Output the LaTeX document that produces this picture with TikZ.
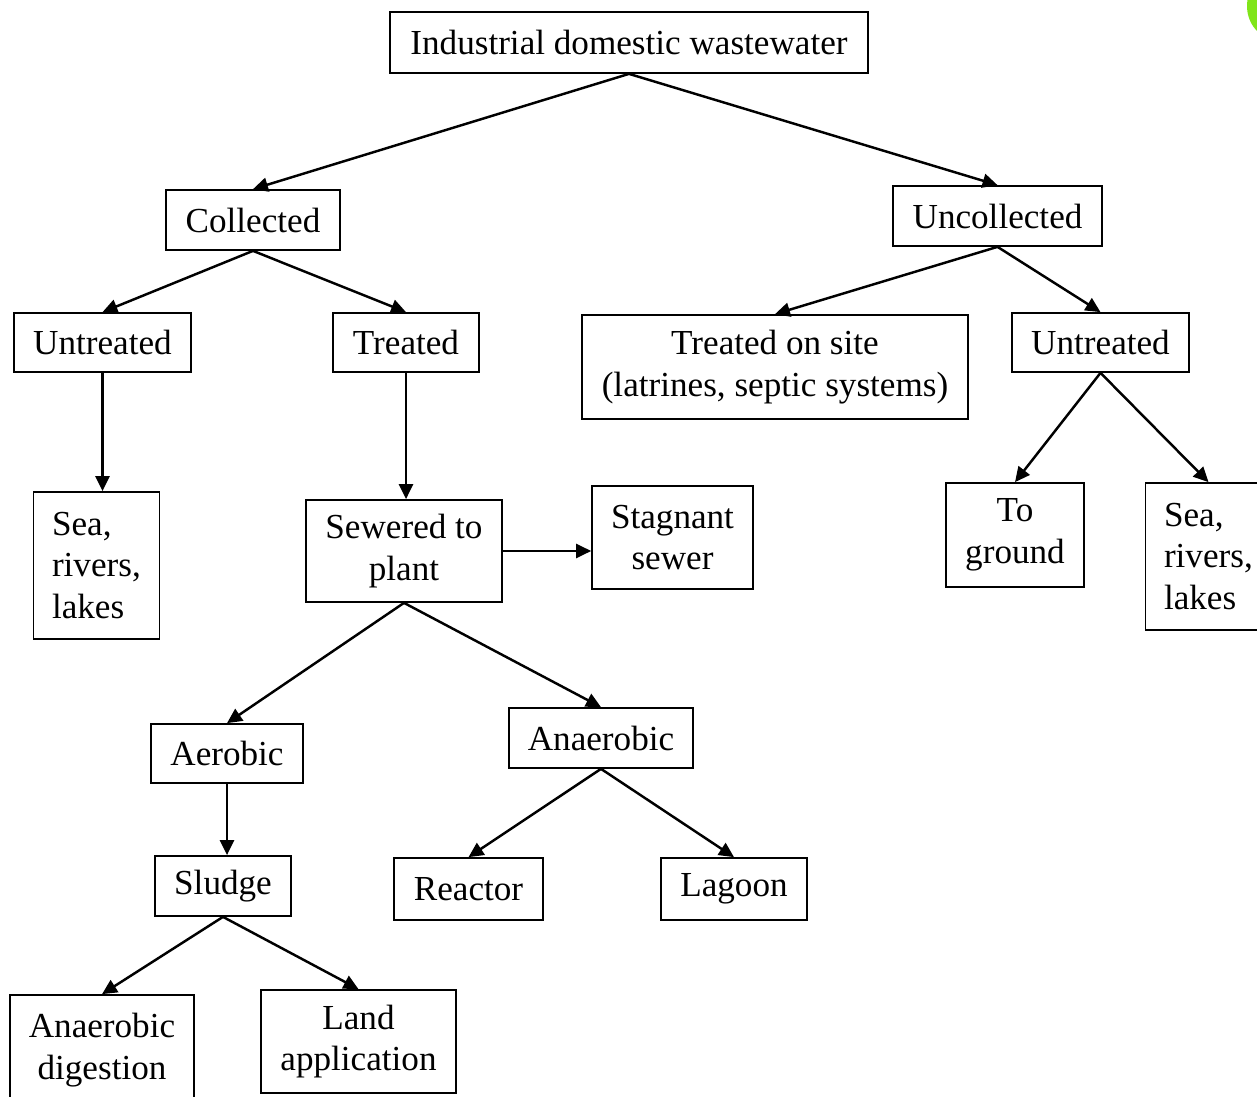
\documentclass[tikz,border=0pt]{standalone}
\usepackage{fontspec}
\setmainfont{Liberation Serif}
\usetikzlibrary{arrows.meta, positioning}
\definecolor{leaf}{rgb}{0.5,0.9,0.1}

\begin{document}
\begin{tikzpicture}[x=0.02cm, y=-0.02cm]
	\tikzstyle{box} = [ draw, rectangle, line width=1pt, inner sep=0pt, align=center, font={\fontsize{20}{23.8}\selectfont} ];
	\tikzstyle{water} = [ box, align=left, text width=1.78cm, inner xsep=0.37cm, minimum height=2.94cm ];
	\tikzstyle{point} = [ -{Triangle[length=8.5pt, width=8pt]}, line width=1.4pt ];

	\path[use as bounding box, fill=white] (0,0) rectangle (1257,1097);
	\clip (0,0) rectangle (1257,1097);

	\fill[leaf] (1276,6) ellipse [x radius=29, y radius=33];

	% first levels
	\node[box, minimum width=9.56cm, minimum height=1.22cm] (top) at (629,42.5) {Industrial domestic wastewater};
	\node[box, minimum width=3.48cm, minimum height=1.2cm] (coll) at (253,220) {Collected};
	\node[box, minimum width=4.18cm, minimum height=1.2cm] (uncoll) at (997.5,216) {Uncollected};
	\node[box, minimum width=3.54cm, minimum height=1.18cm] (untrL) at (102.5,342.5) {Untreated};
	\node[box, minimum width=2.92cm, minimum height=1.18cm] (treat) at (406,342.5) {Treated};
	\node[box, minimum width=7.72cm, minimum height=2.08cm] (onsite) at (775,367) {Treated on site\\(latrines, septic systems)};
	\node[box, minimum width=3.54cm, minimum height=1.18cm] (untrR) at (1100.5,342.5) {Untreated};

	% middle
	\node[water] (seaL) at (96.5,565.5) {Sea,\\rivers,\\lakes};
	\node[box, minimum width=3.92cm, minimum height=2.04cm] (sewer) at (404,551) {Sewered to\\plant};
	\node[box, minimum width=3.22cm, minimum height=2.06cm] (stag) at (672.5,537.5) {Stagnant\\sewer};
	\node[box, minimum width=2.76cm, minimum height=2.08cm] (ground) at (1015,535) {To\\ground};
	\node[water] (seaR) at (1208.5,556.5) {Sea,\\rivers,\\lakes};

	% plant
	\node[box, minimum width=3.04cm, minimum height=1.18cm] (aero) at (227,753.5) {Aerobic};
	\node[box, minimum width=3.68cm, minimum height=1.2cm] (anaero) at (601,738) {Anaerobic};
	\node[box, minimum width=2.72cm, minimum height=1.2cm] (sludge) at (223,886) {Sludge};
	\node[box, minimum width=2.98cm, minimum height=1.24cm] (reactor) at (468.5,889) {Reactor};
	\node[box, minimum width=2.92cm, minimum height=1.24cm] (lagoon) at (734,889) {Lagoon};
	\node[box, minimum width=3.68cm, minimum height=2.2cm] (digest) at (102,1050) {Anaerobic\\digestion};
	\node[box, minimum width=3.9cm, minimum height=2.06cm] (land) at (358.5,1041.5) {Land\\application};

	\foreach \a/\b in {top/coll, top/uncoll, coll/untrL, coll/treat, uncoll/onsite, uncoll/untrR,
		untrR/ground, untrR/seaR, sewer/aero, sewer/anaero, anaero/reactor, anaero/lagoon,
		sludge/digest, sludge/land}
		\draw[point] (\a.south) -- (\b.north);

	\foreach \a/\b in {untrL/seaL, treat/sewer, aero/sludge}
		\draw[point] (\a.south) -- (\a.south |- \b.north);

	\draw[point] (sewer.east) -- (sewer.east -| stag.west);

\end{tikzpicture}
\end{document}
